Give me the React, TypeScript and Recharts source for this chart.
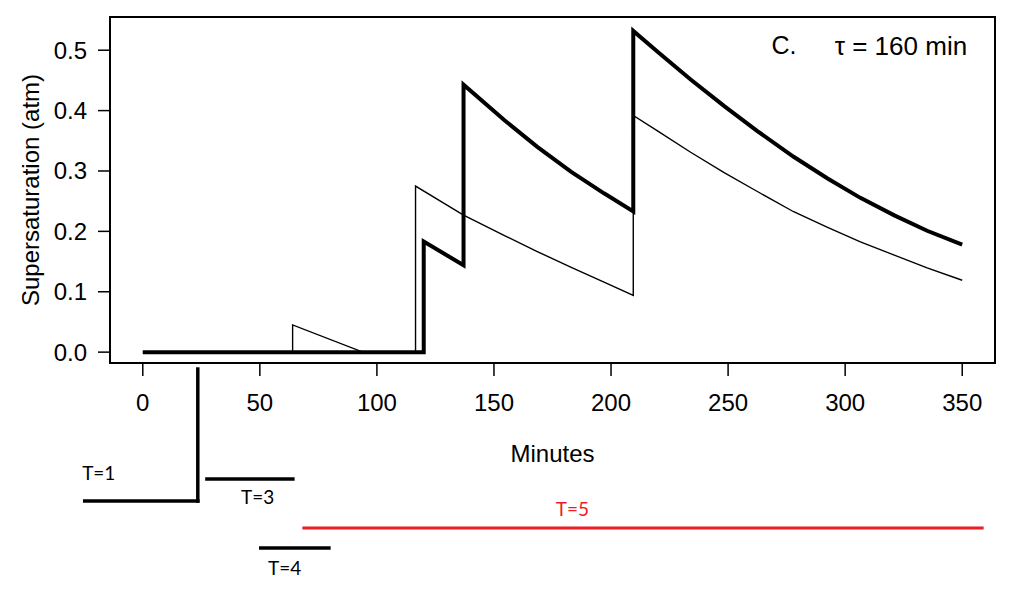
import { LineChart, Line, XAxis, YAxis, ReferenceArea, ReferenceLine, ReferenceDot } from 'recharts';

// thin curve
const thinTimes = [0, 64, 64, 94, 116.5, 116.5, 137, 154.5, 168.5, 183, 197, 209.5, 209.5, 220, 234, 248.5, 262.5, 278, 292.5, 306.5, 321, 335, 350];
const thinValues = [0, 0, 0.045, 0, 0, 0.275, 0.227, 0.193, 0.1665, 0.1405, 0.116, 0.094, 0.392, 0.366, 0.331, 0.297, 0.266, 0.2325, 0.2065, 0.1825, 0.1605, 0.1395, 0.119];

// thick curve
const thickTimes = [0, 120, 120, 137, 137, 154.5, 168.5, 183, 197, 209.5, 209.5, 220, 234, 248.5, 262.5, 278, 292.5, 306.5, 321, 335, 350];
const thickValues = [0, 0, 0.183, 0.144, 0.443, 0.384, 0.34, 0.2985, 0.263, 0.233, 0.532, 0.497, 0.4515, 0.407, 0.366, 0.3235, 0.2875, 0.2555, 0.2265, 0.201, 0.178];

const xTicks = [0, 50, 100, 150, 200, 250, 300, 350];
const yTicks = [0, 0.1, 0.2, 0.3, 0.4, 0.5];

const X_DOMAIN: [number, number] = [-14, 364];
const Y_DOMAIN: [number, number] = [-0.018, 0.555];

const thinData = thinTimes.map((t, i) => ({ t, v: thinValues[i] }));
const thickData = thickTimes.map((t, i) => ({ t, v: thickValues[i] }));

// hand-drawn period markers under the axis (minutes / atm units)
const markerLines = [
  { x1: -24.8, y1: -0.2467, x2: 23.5, y2: -0.2467, color: '#000', w: 3.5 },
  { x1: 23.5, y1: -0.028, x2: 23.5, y2: -0.2467, color: '#000', w: 3.5 },
  { x1: 27.4, y1: -0.2103, x2: 64.1, y2: -0.2103, color: '#000', w: 3.5 },
  { x1: 50.4, y1: -0.3245, x2: 79.5, y2: -0.3245, color: '#000', w: 3.5 },
  { x1: 68.8, y1: -0.2914, x2: 358.5, y2: -0.2914, color: '#ed1c24', w: 3 },
];
const markerLabels = [
  { x: -18.8, y: -0.2003, text: 'T=1', color: '#000' },
  { x: 49.1, y: -0.24, text: 'T=3', color: '#000' },
  { x: 60.6, y: -0.3576, text: 'T=4', color: '#000' },
  { x: 183.5, y: -0.26, text: 'T=5', color: '#ed1c24' },
];

const axisFont = '"Liberation Sans", Arial, sans-serif';
const noteFont = 'Lato, "Open Sans", sans-serif';

export default function App() {
  return (
    <div style={{ position: 'absolute', left: 0, top: 0 }}>
      <LineChart width={1024} height={613} margin={{ top: 17, right: 29, bottom: 0, left: 0 }}>
        <XAxis
          type="number"
          dataKey="t"
          domain={X_DOMAIN}
          allowDataOverflow
          ticks={xTicks}
          axisLine={false}
          tickSize={13}
          tickMargin={18}
          tickLine={{ stroke: '#000', strokeWidth: 1.5 }}
          tick={{ fontSize: 24, fill: '#000', fontFamily: axisFont }}
          height={250}
          label={{ value: 'Minutes', position: 'insideTop', offset: 82, fontSize: 24, fill: '#000', fontFamily: axisFont }}
        />
        <YAxis
          type="number"
          domain={Y_DOMAIN}
          allowDataOverflow
          ticks={yTicks}
          tickFormatter={(v: number) => v.toFixed(1)}
          axisLine={false}
          tickSize={12}
          tickMargin={11}
          tickLine={{ stroke: '#000', strokeWidth: 1.5 }}
          tick={{ fontSize: 24, fill: '#000', fontFamily: axisFont }}
          width={110}
          label={{ value: 'Supersaturation (atm)', angle: -90, position: 'insideLeft', offset: 30, fontSize: 24, fill: '#000', fontFamily: axisFont, style: { textAnchor: 'middle' } }}
        />
        <ReferenceArea x1={X_DOMAIN[0]} x2={X_DOMAIN[1]} y1={Y_DOMAIN[0]} y2={Y_DOMAIN[1]} fill="none" stroke="#000" strokeWidth={2} ifOverflow="visible" />
        <Line data={thinData} dataKey="v" type="linear" stroke="#000" strokeWidth={1.4} dot={false} isAnimationActive={false} />
        <Line data={thickData} dataKey="v" type="linear" stroke="#000" strokeWidth={4} dot={false} isAnimationActive={false} />
        <ReferenceDot x={268.5} y={0.508} r={0} fill="none" stroke="none" ifOverflow="visible"
          label={{ value: 'C.', position: 'right', offset: 0, fontSize: 25, fill: '#000', fontFamily: axisFont }} />
        <ReferenceDot x={352.1} y={0.508} r={0} fill="none" stroke="none" ifOverflow="visible"
          label={{ value: 'τ = 160 min', position: 'left', offset: 0, fontSize: 26, fill: '#000', fontFamily: axisFont }} />
        {markerLines.map((m, i) => (
          <ReferenceLine
            key={`m-${i}`}
            segment={[{ x: m.x1, y: m.y1 }, { x: m.x2, y: m.y2 }]}
            stroke={m.color}
            strokeWidth={m.w}
            strokeLinecap="square"
            ifOverflow="visible"
          />
        ))}
        {markerLabels.map((m, i) => (
          <ReferenceDot key={`l-${i}`} x={m.x} y={m.y} r={0} fill="none" stroke="none" ifOverflow="visible"
            label={{ value: m.text, position: 'center', fontSize: 19, fill: m.color, fontFamily: noteFont }} />
        ))}
      </LineChart>
    </div>
  );
}
